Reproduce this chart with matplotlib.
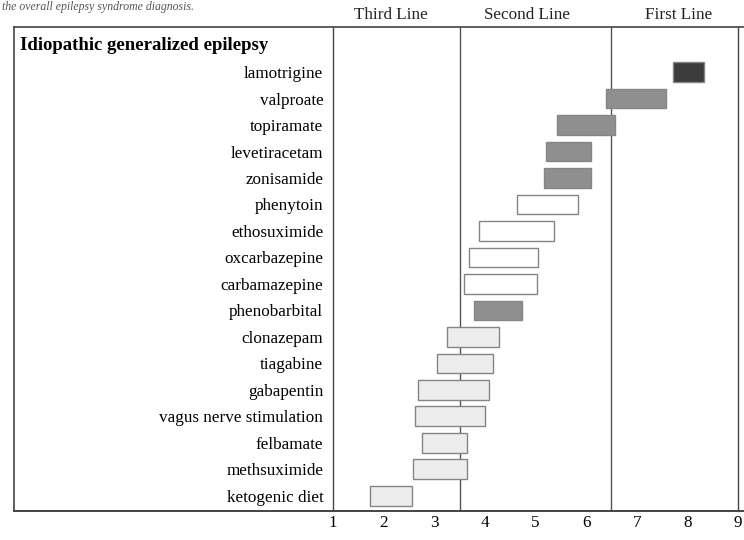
import matplotlib
matplotlib.use("Agg")
import matplotlib.pyplot as plt
from matplotlib.lines import Line2D
from matplotlib.transforms import blended_transform_factory

plt.rcParams['font.family'] = ['Liberation Serif', 'DejaVu Serif']

group_title = "Idiopathic generalized epilepsy"
treatments = ["lamotrigine", "valproate", "topiramate", "levetiracetam", "zonisamide",
              "phenytoin", "ethosuximide", "oxcarbazepine", "carbamazepine", "phenobarbital",
              "clonazepam", "tiagabine", "gabapentin", "vagus nerve stimulation",
              "felbamate", "methsuximide", "ketogenic diet"]
range_start = [7.71, 6.40, 5.42, 5.21, 5.16, 4.63, 3.88, 3.69, 3.58, 3.79,
               3.25, 3.05, 2.67, 2.61, 2.75, 2.59, 1.73]
range_end = [8.32, 7.58, 6.57, 6.09, 6.09, 5.84, 5.37, 5.04, 5.02, 4.74,
             4.28, 4.16, 4.08, 4.01, 3.65, 3.65, 2.57]
shade = ["dark", "medium", "medium", "medium", "medium", "white", "white", "white", "white",
         "medium", "light", "light", "light", "light", "light", "light", "light"]
line_names = ["Third Line", "Second Line", "First Line"]
line_label_pos = [2.15, 4.83, 7.82]
line_bounds = [3.5, 6.5]
x_ticks = [1, 2, 3, 4, 5, 6, 7, 8, 9]

shade_colors = {"dark": "#3b3b3b", "medium": "#8f8f8f", "white": "#ffffff", "light": "#ededed"}

W, H = 744, 540
fig = plt.figure(figsize=(W / 100, H / 100), dpi=100)
left_px, right_px, top_px, bot_px = 333, 738, 27, 511
ax = fig.add_axes([left_px / W, 1 - bot_px / H, (right_px - left_px) / W, (bot_px - top_px) / H])

fs = 12.3
ypos = list(range(len(treatments)))
widths = [e - s for s, e in zip(range_start, range_end)]
ax.barh(ypos, widths, left=range_start, height=0.75,
        color=[shade_colors[s] for s in shade], edgecolor="#858585", linewidth=1.0, zorder=3)

ax.set_xlim(1, 9)
ax.set_ylim(16.57, -1.70)
for b in line_bounds:
    ax.axvline(b, color="#555555", linewidth=1.0, zorder=1)

ax.set_xticks(x_ticks)
ax.set_xticklabels([str(t) for t in x_ticks], fontsize=fs)
ax.tick_params(axis="x", length=0, pad=3)
ax.set_yticks(ypos)
ax.set_yticklabels(treatments, fontsize=fs)
ax.tick_params(axis="y", length=0, pad=7)
for sp in ax.spines.values():
    sp.set_color("#444444")
    sp.set_linewidth(1.0)
ax.spines["top"].set_visible(False)
ax.spines["bottom"].set_visible(False)

# group title in label column
tr = blended_transform_factory(fig.transFigure, ax.transData)
ax.text(20 / W, -1, group_title, transform=tr, fontsize=13.5, fontweight="bold",
        ha="left", va="center")

# header labels above box
for name, pos in zip(line_names, line_label_pos):
    ax.text(pos, 1.0 + 12 / (bot_px - top_px), name,
            transform=blended_transform_factory(ax.transData, ax.transAxes),
            fontsize=fs, ha="center", va="center", color="#222222")

# outer box lines
fig.add_artist(Line2D([14 / W, 1.0], [1 - top_px / H] * 2, transform=fig.transFigure,
                      color="#444444", linewidth=1.2))
fig.add_artist(Line2D([14 / W, 1.0], [1 - bot_px / H] * 2, transform=fig.transFigure,
                      color="#444444", linewidth=1.4))
fig.add_artist(Line2D([14 / W, 14 / W], [1 - top_px / H, 1 - bot_px / H], transform=fig.transFigure,
                      color="#444444", linewidth=1.2))

# caption fragment at top
fig.text(2 / W, 1 - 1 / H, "the overall epilepsy syndrome diagnosis.", fontsize=8.5,
         style="italic", ha="left", va="top", color="#555555")

fig.savefig("out.png", dpi=100)
